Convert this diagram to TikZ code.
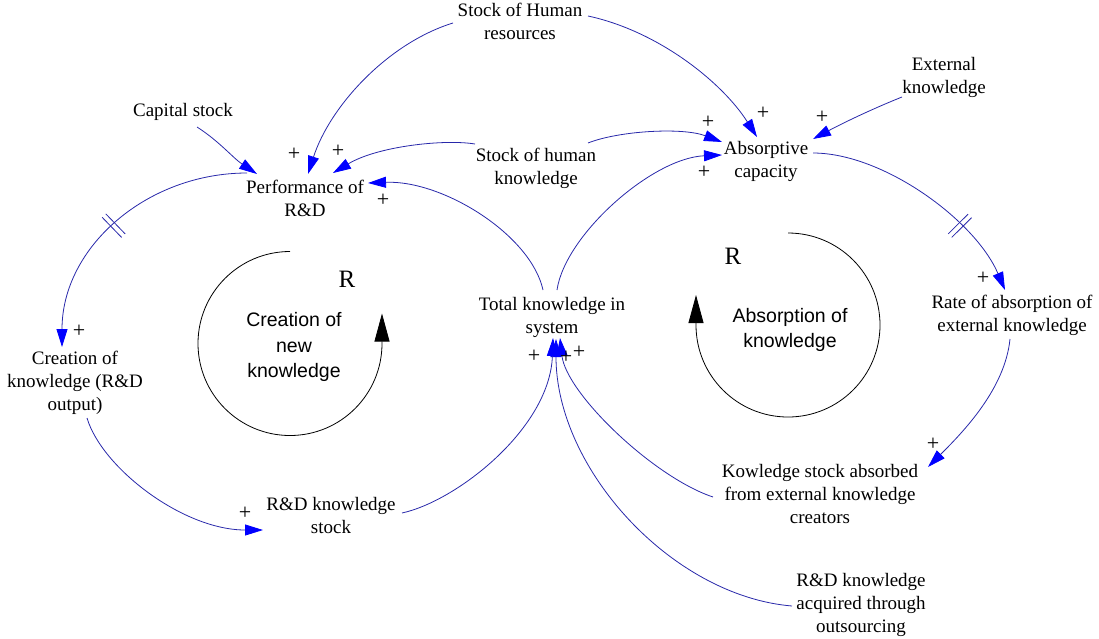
\documentclass[tikz,border=0pt]{standalone}
\usepackage{fontspec}
\setmainfont{Liberation Serif}
\newfontfamily\sansf{Liberation Sans}
\usetikzlibrary{arrows.meta,calc,decorations.markings}
\definecolor{linkblue}{RGB}{40,40,170}
\definecolor{arrowblue}{RGB}{0,0,255}
\begin{document}
\begin{tikzpicture}[x=1pt,y=-1pt,
 lbl/.style={font=\fontsize{19}{23}\selectfont, align=center, inner sep=0pt},
 looplbl/.style={font=\sansf\fontsize{19.5}{25.5}\selectfont, align=center, inner sep=0pt},
 bigR/.style={font=\fontsize{25}{25}\selectfont, inner sep=0pt},
 plus/.style={font=\fontsize{22}{22}\selectfont, inner sep=0pt},
 link/.style={draw=linkblue, line width=0.8pt, -{Triangle[length=18pt,width=11pt,color=arrowblue]}},
 loopline/.style={draw=black, line width=0.8pt, -{Triangle[length=28pt,width=15pt,color=black]}},
 hatch/.style={postaction={decorate}, decoration={markings, mark=at position #1 with {\draw[linkblue,line width=0.8pt,arrows=-] (-2.5pt,-14pt)--(-2.5pt,14pt) (2.5pt,-14pt)--(2.5pt,14pt);}}}
]
\useasboundingbox (0,0) rectangle (1099,638);

% variables
\node[lbl] (hr)   at (520,21)  {Stock of Human\\resources};
\node[lbl] (ext)  at (944,77)  {External\\knowledge};
\node[lbl] (cap)  at (183,112) {Capital stock};
\node[lbl] (perf) at (305,198) {Performance of\\R\&D};
\node[lbl] (shk)  at (536,168) {Stock of human\\knowledge};
\node[lbl] (abs)  at (766,161) {Absorptive\\capacity};
\node[lbl] (tot)  at (552,317) {Total knowledge in\\system};
\node[lbl] (rate) at (1012,315) {Rate of absorption of\\external knowledge};
\node[lbl] (cre)  at (75,383)  {Creation of\\knowledge (R\&D\\output)};
\node[lbl] (rds)  at (331,515) {R\&D knowledge\\stock};
\node[lbl] (kab)  at (820,494) {Kowledge stock absorbed\\from external knowledge\\creators};
\node[lbl] (out)  at (861,605) {R\&D knowledge\\acquired through\\outsourcing};

% loop labels
\node[bigR] (r1) at (347,279) {R};
\node[bigR] (r2) at (733,256) {R};
\node[looplbl] (l1) at (294,347) {Creation of\\new\\knowledge};
\node[looplbl] (l2) at (790,330) {Absorption of\\knowledge};

% loops
\draw[loopline] (290,251.5) arc[start angle=90, end angle=360, radius=92pt] -- ++(0,-30);
\draw[loopline] (788,233) arc[start angle=90, end angle=-180, radius=92pt] -- ++(0,-30);

% links
\draw[link] ($(hr)+(-67,2)$) .. controls +(-65,20) and +(22,-68) .. ($(perf)+(3,-24)$);
\draw[link] ($(hr)+(68,-5)$) .. controls +(70,15) and +(-35,-55) .. ($(abs)+(-9,-24)$);
\draw[link] ($(shk)+(-61,-24)$) .. controls +(-30,-5) and +(45,-27) .. ($(perf)+(28,-25)$);
\draw[link] ($(shk)+(52,-25)$) .. controls +(30,-12) and +(-40,-15) .. ($(abs)+(-44,-19)$);
\draw[link] ($(cap)+(14,15)$) .. controls +(22,14) and +(-24,-16) .. ($(perf)+(-48,-24)$);
\draw[link] ($(tot)+(-9,-27)$) .. controls +(-12,-55) and +(75,-3) .. ($(perf)+(63,-15)$);
\draw[link] ($(tot)+(5,-27)$) .. controls +(8,-55) and +(-70,3) .. ($(abs)+(-44,-6)$);
\draw[link] ($(ext)+(-42,20)$) .. controls +(-30,12) and +(30,-16) .. ($(abs)+(47,-22)$);
\draw[link,hatch=0.68] ($(abs)+(47,-8)$) .. controls +(70,0) and +(-30,-70) .. ($(rate)+(-7,-25)$);
\draw[link] ($(rate)+(-2,24)$) .. controls +(-5,50) and +(35,-35) .. ($(kab)+(108,-27)$);
\draw[link] ($(kab)+(-107,3)$) .. controls +(-60,-20) and +(6,55) .. ($(tot)+(8,21)$);
\draw[link] ($(out)+(-69,1)$) .. controls +(-120,-10) and +(0,130) .. ($(tot)+(4,22)$);
\draw[link] ($(rds)+(71,-2)$) .. controls +(55,-12) and +(-3,90) .. ($(tot)+(1,21)$);
\draw[link,hatch=0.52] ($(perf)+(-58,-25)$) .. controls +(-100,0) and +(0,-100) .. ($(cre)+(-13,-36)$);
\draw[link] ($(cre)+(12,35)$) .. controls +(15,50) and +(-80,0) .. ($(rds)+(-68,15)$);

% polarities
\node[plus] (p1)  at (294,154) {+};
\node[plus] (p2)  at (338,151) {+};
\node[plus] (p3)  at (383,200) {+};
\node[plus] (p4)  at (763,113) {+};
\node[plus] (p5)  at (708,122) {+};
\node[plus] (p6)  at (704,172) {+};
\node[plus] (p7)  at (822,117) {+};
\node[plus] (p8)  at (983,278) {+};
\node[plus] (p9)  at (933,444) {+};
\node[plus] (p10) at (79,331)  {+};
\node[plus] (p11) at (245,513) {+};
\node[plus] (p12) at (534,356) {+};
\node[plus] (p13) at (566,357) {+};
\node[plus] (p14) at (579,352) {+};
\end{tikzpicture}
\end{document}
